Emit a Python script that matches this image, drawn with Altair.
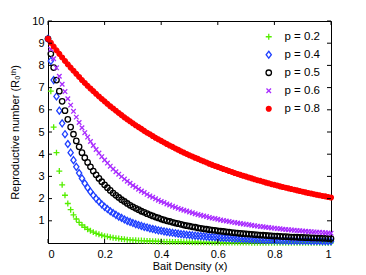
import altair as alt
import pandas as pd

# x grid (bait density)
x_vals = [round(i * 0.01, 2) for i in range(101)]

series = ["p = 0.2", "p = 0.4", "p = 0.5", "p = 0.6", "p = 0.8"]

r_p02 = [9.20, 6.84, 5.22, 4.07, 3.24, 2.62, 2.15, 1.78, 1.50, 1.27, 1.08,
         0.93, 0.81, 0.71, 0.62, 0.55, 0.49, 0.43, 0.39, 0.35, 0.31,
         0.29, 0.26, 0.24, 0.22, 0.20, 0.18, 0.17, 0.15, 0.14, 0.13,
         0.12, 0.11, 0.11, 0.10, 0.09, 0.09, 0.08, 0.08, 0.07, 0.07,
         0.06, 0.06, 0.06, 0.05, 0.05, 0.05, 0.05, 0.04, 0.04, 0.04,
         0.037, 0.035, 0.033, 0.032, 0.030, 0.029, 0.028, 0.026, 0.025, 0.024,
         0.023, 0.022, 0.021, 0.020, 0.020, 0.019, 0.018, 0.017, 0.017, 0.016,
         0.016, 0.015, 0.015, 0.014, 0.013, 0.013, 0.013, 0.012, 0.012, 0.011,
         0.011, 0.011, 0.010, 0.010, 0.010, 0.009, 0.009, 0.009, 0.009, 0.008,
         0.008, 0.008, 0.008, 0.007, 0.007, 0.007, 0.007, 0.007, 0.006, 0.006]

r_p04 = [9.20, 8.20, 7.34, 6.60, 5.96, 5.39, 4.90, 4.46, 4.07, 3.73, 3.43,
         3.15, 2.91, 2.69, 2.49, 2.31, 2.15, 2.00, 1.87, 1.74, 1.63,
         1.53, 1.43, 1.35, 1.27, 1.19, 1.13, 1.06, 1.00, 0.95, 0.90,
         0.85, 0.81, 0.77, 0.73, 0.70, 0.66, 0.63, 0.60, 0.57, 0.55,
         0.52, 0.50, 0.48, 0.46, 0.44, 0.42, 0.40, 0.39, 0.37, 0.36,
         0.34, 0.33, 0.32, 0.31, 0.30, 0.29, 0.27, 0.27, 0.26, 0.25,
         0.24, 0.23, 0.22, 0.22, 0.21, 0.20, 0.20, 0.19, 0.18, 0.18,
         0.17, 0.17, 0.16, 0.16, 0.15, 0.15, 0.14, 0.14, 0.14, 0.13,
         0.13, 0.12, 0.12, 0.12, 0.11, 0.11, 0.11, 0.11, 0.10, 0.10,
         0.10, 0.10, 0.09, 0.09, 0.09, 0.09, 0.08, 0.08, 0.08, 0.08]

r_p05 = [9.20, 8.52, 7.90, 7.34, 6.84, 6.38, 5.96, 5.57, 5.22, 4.90, 4.60,
         4.33, 4.07, 3.84, 3.63, 3.43, 3.24, 3.07, 2.91, 2.76, 2.62,
         2.49, 2.37, 2.25, 2.15, 2.05, 1.95, 1.87, 1.78, 1.70, 1.63,
         1.56, 1.50, 1.43, 1.38, 1.32, 1.27, 1.22, 1.17, 1.13, 1.08,
         1.04, 1.00, 0.97, 0.93, 0.90, 0.87, 0.84, 0.81, 0.78, 0.76,
         0.73, 0.71, 0.68, 0.66, 0.64, 0.62, 0.60, 0.58, 0.57, 0.55,
         0.53, 0.52, 0.50, 0.49, 0.47, 0.46, 0.45, 0.43, 0.42, 0.41,
         0.40, 0.39, 0.38, 0.37, 0.36, 0.35, 0.34, 0.33, 0.32, 0.31,
         0.31, 0.30, 0.29, 0.29, 0.28, 0.27, 0.27, 0.26, 0.25, 0.25,
         0.24, 0.24, 0.23, 0.23, 0.22, 0.22, 0.21, 0.21, 0.20, 0.20]

r_p06 = [9.20, 8.73, 8.30, 7.89, 7.51, 7.15, 6.82, 6.50, 6.21, 5.93, 5.67,
         5.43, 5.19, 4.97, 4.77, 4.57, 4.39, 4.21, 4.05, 3.89, 3.74,
         3.60, 3.46, 3.33, 3.21, 3.10, 2.99, 2.88, 2.78, 2.69, 2.59,
         2.51, 2.42, 2.34, 2.27, 2.19, 2.12, 2.06, 1.99, 1.93, 1.87,
         1.82, 1.76, 1.71, 1.66, 1.61, 1.56, 1.52, 1.48, 1.44, 1.40,
         1.36, 1.32, 1.28, 1.25, 1.22, 1.19, 1.15, 1.12, 1.10, 1.07,
         1.04, 1.01, 0.99, 0.97, 0.94, 0.92, 0.90, 0.88, 0.86, 0.84,
         0.82, 0.80, 0.78, 0.76, 0.74, 0.73, 0.71, 0.70, 0.68, 0.67,
         0.65, 0.64, 0.62, 0.61, 0.60, 0.59, 0.57, 0.56, 0.55, 0.54,
         0.53, 0.52, 0.51, 0.50, 0.49, 0.48, 0.47, 0.46, 0.45, 0.44]

r_p08 = [9.20, 9.02, 8.85, 8.68, 8.52, 8.36, 8.20, 8.05, 7.90, 7.76, 7.62,
         7.48, 7.34, 7.21, 7.08, 6.96, 6.84, 6.72, 6.60, 6.49, 6.38,
         6.27, 6.16, 6.06, 5.96, 5.86, 5.76, 5.66, 5.57, 5.48, 5.39,
         5.30, 5.22, 5.14, 5.05, 4.97, 4.90, 4.82, 4.74, 4.67, 4.60,
         4.53, 4.46, 4.39, 4.33, 4.26, 4.20, 4.13, 4.07, 4.01, 3.95,
         3.90, 3.84, 3.79, 3.73, 3.68, 3.63, 3.57, 3.52, 3.47, 3.43,
         3.38, 3.33, 3.29, 3.24, 3.20, 3.15, 3.11, 3.07, 3.03, 2.99,
         2.95, 2.91, 2.87, 2.83, 2.80, 2.76, 2.72, 2.69, 2.65, 2.62,
         2.59, 2.55, 2.52, 2.49, 2.46, 2.43, 2.40, 2.37, 2.34, 2.31,
         2.28, 2.25, 2.23, 2.20, 2.17, 2.15, 2.12, 2.10, 2.07, 2.05]

x_ticks = [0, 0.2, 0.4, 0.6, 0.8, 1]
y_ticks = [1, 2, 3, 4, 5, 6, 7, 8, 9, 10]

stroke_colors = ["#55ee00", "#1f40ff", "#000000", "#a92cff", "#ff0000"]
fill_colors = ["transparent", "transparent", "transparent", "transparent", "#ff0000"]
# marker outlines (unit = half of sqrt(size) pixels)
shapes = [
    "M-0.85,0L0.85,0M0,-0.85L0,0.85",
    "M0,-1L0.75,0L0,1L-0.75,0Z",
    "M-0.78,0A0.78,0.78 0 1,1 0.78,0A0.78,0.78 0 1,1 -0.78,0Z",
    "M-0.65,-0.65L0.65,0.65M-0.65,0.65L0.65,-0.65",
    "M-0.68,0A0.68,0.68 0 1,1 0.68,0A0.68,0.68 0 1,1 -0.68,0Z",
]
MARKER_SIZE = 49

rows = []
for name, vals in zip(series, [r_p02, r_p04, r_p05, r_p06, r_p08]):
    for xv, yv in zip(x_vals, vals):
        rows.append({"x": xv, "R": yv, "series": name})
df = pd.DataFrame(rows)

W, H = 283, 222
FONT = "Liberation Sans"

x_enc = alt.X("x:Q", scale=alt.Scale(domain=[0, 1], nice=False, zero=False),
              axis=alt.Axis(values=x_ticks, format="~g", title="Bait Density (x)",
                            labelPadding=5, titlePadding=1))
y_enc = alt.Y("R:Q", scale=alt.Scale(domain=[0, 10], nice=False),
              axis=alt.Axis(values=y_ticks, title="Reproductive number (R₀ᵗʰ)",
                            labelPadding=4, titlePadding=11))

points = alt.Chart(df).mark_point(strokeWidth=1.3, opacity=1, size=MARKER_SIZE).encode(
    x=x_enc,
    y=y_enc,
    stroke=alt.Stroke("series:N", scale=alt.Scale(domain=series, range=stroke_colors),
                      title=None,
                      legend=alt.Legend(orient="none", legendX=215, legendY=10,
                                        labelFont=FONT, labelFontSize=11.5, labelColor="black",
                                        padding=0, rowPadding=5, labelOffset=10,
                                        symbolStrokeWidth=1.3, symbolSize=MARKER_SIZE)),
    fill=alt.Fill("series:N", scale=alt.Scale(domain=series, range=fill_colors), title=None),
    shape=alt.Shape("series:N", scale=alt.Scale(domain=series, range=shapes), title=None),
)

xt = pd.DataFrame({"x": x_ticks})
yt = pd.DataFrame({"R": y_ticks})
bottom_ticks = alt.Chart(xt).mark_rule(color="black", strokeWidth=1).encode(
    x=x_enc, y=alt.value(H), y2=alt.value(H - 4))
top_ticks = alt.Chart(xt).mark_rule(color="black", strokeWidth=1).encode(
    x=x_enc, y=alt.value(0), y2=alt.value(4))
left_ticks = alt.Chart(yt).mark_rule(color="black", strokeWidth=1).encode(
    y=y_enc, x=alt.value(0), x2=alt.value(4))
right_ticks = alt.Chart(yt).mark_rule(color="black", strokeWidth=1).encode(
    y=y_enc, x=alt.value(W), x2=alt.value(W - 4))

chart = alt.layer(points, bottom_ticks, top_ticks, left_ticks, right_ticks).properties(
    width=W, height=H,
    autosize=alt.AutoSizeParams(type="none"),
    padding={"left": 40, "top": 13, "right": 27, "bottom": 30},
    background="white",
).configure_view(
    stroke="black", strokeWidth=1
).configure_axis(
    grid=False, ticks=False, domainColor="black", domainWidth=1,
    labelFont=FONT, labelFontSize=11, labelColor="black",
    titleFont=FONT, titleFontSize=11, titleFontWeight="normal", titleColor="black",
)

chart.save("out.html", embed_options={"renderer": "svg", "actions": False})
